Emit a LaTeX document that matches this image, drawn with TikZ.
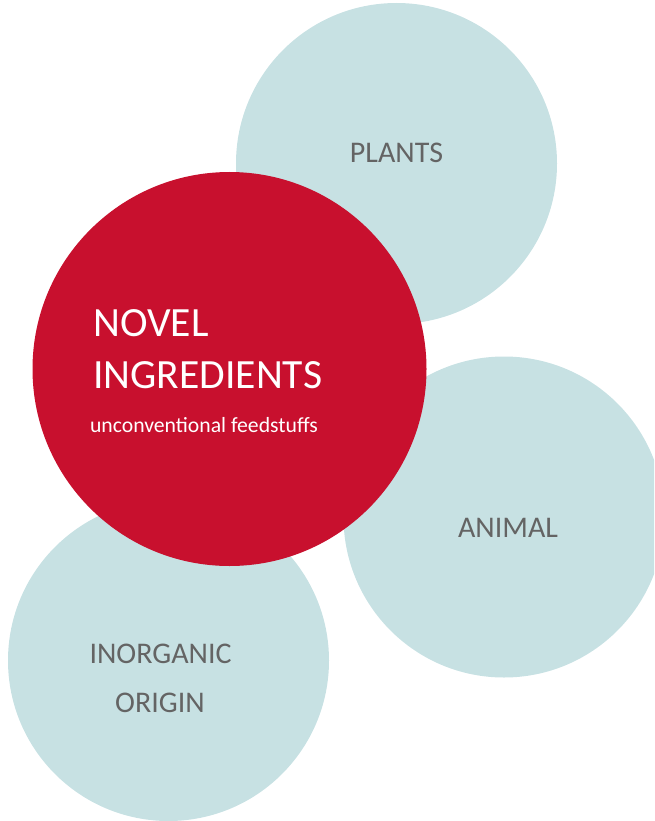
\documentclass[tikz,border=0pt]{standalone}
\usepackage{fontspec}
\setmainfont{Carlito}
\definecolor{bluegrey}{HTML}{C7E1E3}
\definecolor{novelred}{HTML}{C8102E}
\definecolor{labelgrey}{HTML}{646464}
\begin{document}
\begin{tikzpicture}[x=1pt,y=-1pt,
  bub/.style={circle,fill=bluegrey,draw=none,inner sep=0pt,minimum size=321pt},
  redbub/.style={circle,fill=novelred,draw=none,inner sep=0pt,minimum size=394pt},
  lab/.style={text=labelgrey,font=\fontsize{30}{36}\selectfont,inner sep=0pt,anchor=base},
  wlab/.style={text=white,inner sep=0pt,anchor=base west}]
\useasboundingbox (0,0) rectangle (654,821);
\clip (0,0) rectangle (654,821);
\node[bub] (plants) at (396.5,163.5) {};
\node[bub] (animal) at (504,517) {};
\node[bub] (inorg) at (168.5,660.5) {};
\node[redbub] (novel) at (229.5,369) {};
\node[lab] (tplants) at (396.5,163) {PLANTS};
\node[lab] (tanimal) at (508,537) {ANIMAL};
\node[lab] (tinorg) at (160.5,663) {INORGANIC};
\node[lab] (torigin) at (160,712) {ORIGIN};
\node[wlab,font=\fontsize{41.6}{48}\selectfont] (tnovel) at (93,336) {NOVEL};
\node[wlab,font=\fontsize{41.6}{48}\selectfont] (tingr) at (93,388) {INGREDIENTS};
\node[text=white,inner sep=0pt,anchor=base,font=\fontsize{21.7}{26}\selectfont] (tsub) at (204,432) {unconventional feedstuffs};
\end{tikzpicture}
\end{document}
